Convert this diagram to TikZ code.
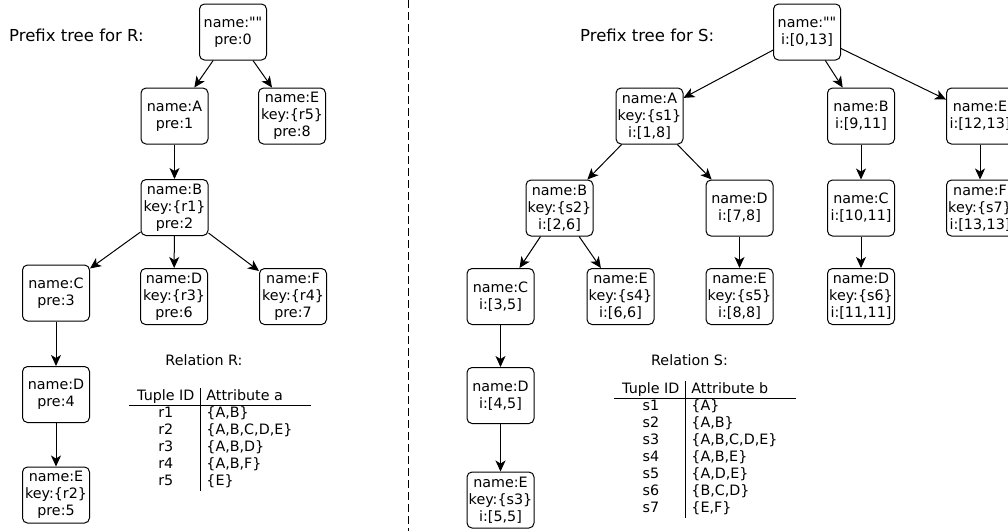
\documentclass[tikz,border=0pt]{standalone}
\usepackage{fontspec}
\setmainfont{DejaVu Sans}[Ligatures=TeXOff]
\usetikzlibrary{arrows.meta}

\tikzset{
  tnode/.style={draw, line width=1pt, rounded corners=5pt, align=center,
    minimum width=67pt, minimum height=56pt, inner xsep=1pt, inner ysep=2pt,
    font=\fontsize{14.3}{17}\selectfont},
  tedge/.style={line width=1pt, -{Stealth[length=11pt, width=10pt, inset=3pt]}},
  ttitle/.style={font=\fontsize{16.5}{19}\selectfont, anchor=west, inner sep=0pt},
  rtitle/.style={font=\fontsize{14.3}{17}\selectfont},
  rtable/.style={anchor=north west, inner sep=0pt, font=\fontsize{14.3}{17}\selectfont},
}

\begin{document}
\begin{tikzpicture}[x=1pt, y=-1pt]
  \useasboundingbox (0,0) rectangle (1008,531);

  % 左边:R 的前缀树
  \node[ttitle] (titleR) at (9,35) {Prefix tree for R:};
  \node[tnode] (rRoot)  at (233,32)    {name:""\\pre:0};
  \node[tnode] (rA)     at (174.5,116) {name:A\\pre:1};
  \node[tnode] (rE)     at (292,116)   {name:E\\key:\{r5\}\\pre:8};
  \node[tnode] (rAB)    at (174.5,207.5) {name:B\\key:\{r1\}\\pre:2};
  \node[tnode] (rABC)   at (56,293)    {name:C\\pre:3};
  \node[tnode] (rABD)   at (174,296.5) {name:D\\key:\{r3\}\\pre:6};
  \node[tnode] (rABF)   at (293,296.5) {name:F\\key:\{r4\}\\pre:7};
  \node[tnode] (rABCD)  at (56,394.5)  {name:D\\pre:4};
  \node[tnode] (rABCDE) at (56,495)    {name:E\\key:\{r2\}\\pre:5};

  \draw[tedge] (rRoot) -- (rA);
  \draw[tedge] (rRoot) -- (rE);
  \draw[tedge] (rA) -- (rAB);
  \draw[tedge] (rAB) -- (rABC);
  \draw[tedge] (rAB) -- (rABD);
  \draw[tedge] (rAB) -- (rABF);
  \draw[tedge] (rABC) -- (rABCD);
  \draw[tedge] (rABCD) -- (rABCDE);

  % 关系 R
  \node[rtitle] (relR) at (204,360) {Relation R:};
  \node[rtable] (tabR) at (129,388) {%
    \begin{tabular}{@{\hspace{8pt}}c|l@{\hspace{19pt}}}
      Tuple ID & Attribute a\\\hline
      r1 & \{A,B\}\\
      r2 & \{A,B,C,D,E\}\\
      r3 & \{A,B,D\}\\
      r4 & \{A,B,F\}\\
      r5 & \{E\}
    \end{tabular}};

  % 分隔线
  \draw[line width=0.8pt, dash pattern=on 8pt off 4pt] (408,0) -- (408,531);

  % 右边:S 的前缀树
  \node[ttitle] (titleS) at (580,35) {Prefix tree for S:};
  \node[tnode] (sRoot)  at (807,32)    {name:""\\i:[0,13]};
  \node[tnode] (sA)     at (649.5,116) {name:A\\key:\{s1\}\\i:[1,8]};
  \node[tnode] (sB)     at (861,116)   {name:B\\i:[9,11]};
  \node[tnode] (sE)     at (980,116)   {name:E\\i:[12,13]};
  \node[tnode] (sAB)    at (559.5,208) {name:B\\key:\{s2\}\\i:[2,6]};
  \node[tnode] (sAD)    at (739.5,208) {name:D\\i:[7,8]};
  \node[tnode] (sBC)    at (861,208)   {name:C\\i:[10,11]};
  \node[tnode] (sEF)    at (980,208)   {name:F\\key:\{s7\}\\i:[13,13]};
  \node[tnode] (sABC)   at (500.5,296.5) {name:C\\i:[3,5]};
  \node[tnode] (sABE)   at (620.5,296.5) {name:E\\key:\{s4\}\\i:[6,6]};
  \node[tnode] (sADE)   at (739.5,296.5) {name:E\\key:\{s5\}\\i:[8,8]};
  \node[tnode] (sBCD)   at (861,296.5)   {name:D\\key:\{s6\}\\i:[11,11]};
  \node[tnode] (sABCD)  at (500.5,395.5) {name:D\\i:[4,5]};
  \node[tnode] (sABCDE) at (500.5,500)   {name:E\\key:\{s3\}\\i:[5,5]};

  \draw[tedge] (sRoot) -- (sA);
  \draw[tedge] (sRoot) -- (sB);
  \draw[tedge] (sRoot) -- (sE);
  \draw[tedge] (sA) -- (sAB);
  \draw[tedge] (sA) -- (sAD);
  \draw[tedge] (sB) -- (sBC);
  \draw[tedge] (sE) -- (sEF);
  \draw[tedge] (sAB) -- (sABC);
  \draw[tedge] (sAB) -- (sABE);
  \draw[tedge] (sAD) -- (sADE);
  \draw[tedge] (sBC) -- (sBCD);
  \draw[tedge] (sABC) -- (sABCD);
  \draw[tedge] (sABCD) -- (sABCDE);

  % 关系 S
  \node[rtitle] (relS) at (689.5,360) {Relation S:};
  \node[rtable] (tabS) at (614,381) {%
    \begin{tabular}{@{\hspace{8pt}}c|l@{\hspace{19pt}}}
      Tuple ID & Attribute b\\\hline
      s1 & \{A\}\\
      s2 & \{A,B\}\\
      s3 & \{A,B,C,D,E\}\\
      s4 & \{A,B,E\}\\
      s5 & \{A,D,E\}\\
      s6 & \{B,C,D\}\\
      s7 & \{E,F\}
    \end{tabular}};
\end{tikzpicture}
\end{document}
